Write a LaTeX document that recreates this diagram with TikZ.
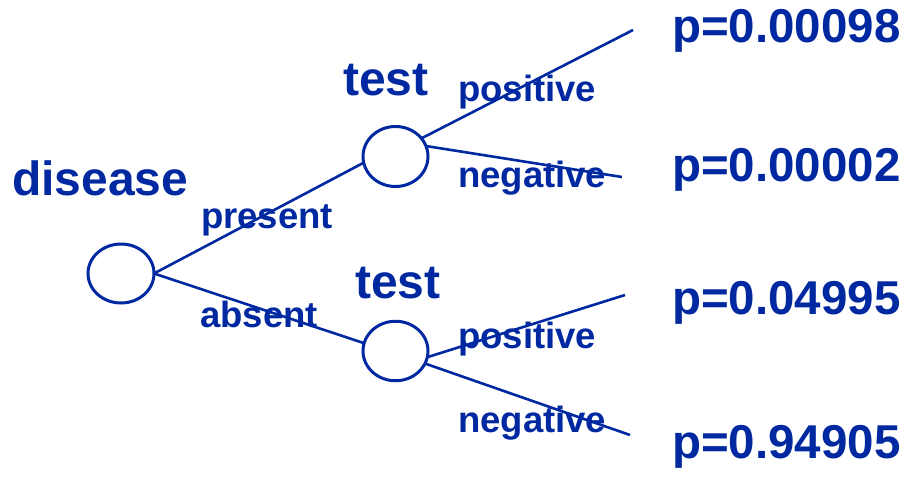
\documentclass[tikz,border=0pt]{standalone}
\usepackage{fontspec}
\setmainfont{Liberation Sans}
\usetikzlibrary{shapes.geometric}
\definecolor{treeblue}{RGB}{0,40,160}
\tikzset{
  chance/.style={ellipse, draw=treeblue, line width=3pt, inner sep=0pt, outer sep=0pt, minimum width=65pt, minimum height=60pt},
  branch/.style={draw=treeblue, line width=2.6pt},
  bigtxt/.style={anchor=base west, inner sep=0pt, text=treeblue, font=\fontsize{48}{52}\selectfont\bfseries},
  smalltxt/.style={anchor=base west, inner sep=0pt, text=treeblue, font=\fontsize{36.5}{40}\selectfont\bfseries},
  probtxt/.style={anchor=base west, inner sep=0pt, text=treeblue, font=\fontsize{47.5}{52}\selectfont\bfseries},
}
\begin{document}
\begin{tikzpicture}[x=1pt,y=-1pt]
\useasboundingbox (0,0) rectangle (913,477);
% chance nodes
\node[chance, minimum width=66pt, minimum height=59pt] (d) at (121,273.5) {};
\node[chance] (t1) at (395.5,156.5) {};
\node[chance, minimum height=59.5pt] (t2) at (395.5,351) {};
% free ends
\coordinate (e1) at (633,30);
\coordinate (e2) at (622,177);
\coordinate (e3) at (625,295);
\coordinate (e4) at (630,435);
% branches
\draw[branch] (d.east) -- (t1.191);
\draw[branch] (d.east) -- (t2.166);
\draw[branch] (t1.35) -- (e1);
\draw[branch] (t1.19) -- (e2);
\draw[branch] (t2.-11) -- (e3);
\draw[branch] (t2.-23) -- (e4);
% labels
\node[bigtxt] (ldisease) at (12,195) {disease};
\node[bigtxt] (ltest1) at (343,95) {test};
\node[bigtxt] (ltest2) at (355,298) {test};
\node[smalltxt] (lpresent) at (201,228) {present};
\node[smalltxt] (labsent) at (200,327) {absent};
\node[smalltxt] (lpos1) at (458,101) {positive};
\node[smalltxt] (lneg1) at (458,187) {negative};
\node[smalltxt] (lpos2) at (458,348) {positive};
\node[smalltxt] (lneg2) at (458,432) {negative};
% probabilities
\node[probtxt] (p1) at (672,42) {p=0.00098};
\node[probtxt] (p2) at (672,181) {p=0.00002};
\node[probtxt] (p3) at (672,314) {p=0.04995};
\node[probtxt] (p4) at (672,458) {p=0.94905};
\end{tikzpicture}
\end{document}
